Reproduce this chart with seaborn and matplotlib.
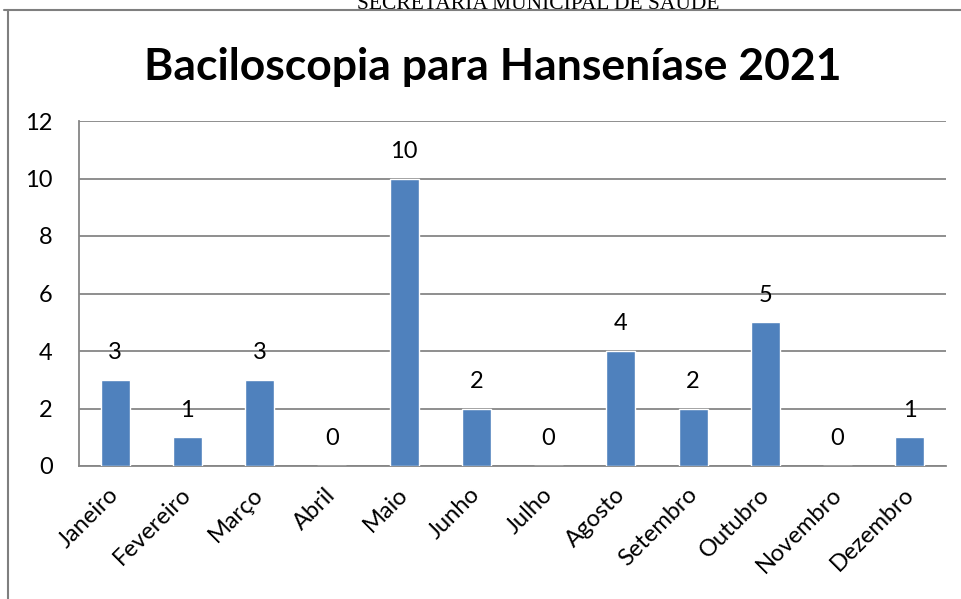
import matplotlib
matplotlib.use('Agg')
import matplotlib.pyplot as plt
import matplotlib.transforms as mtransforms
import seaborn as sns
import pandas as pd

# dados
meses = ['Janeiro', 'Fevereiro', 'Março', 'Abril', 'Maio', 'Junho', 'Julho',
         'Agosto', 'Setembro', 'Outubro', 'Novembro', 'Dezembro']
casos = [3, 1, 3, 0, 10, 2, 0, 4, 2, 5, 0, 1]

df = pd.DataFrame({'mes': meses, 'casos': casos})

sns.set_theme(style='white')
plt.rcParams['font.family'] = ['Lato', 'DejaVu Sans']
plt.rcParams['text.color'] = 'black'

fig = plt.figure(figsize=(9.62, 5.99), dpi=100)
ax = fig.add_axes([79 / 962, 1 - 466 / 599, 867 / 962, 345 / 599])

sns.barplot(data=df, x='mes', y='casos', color='#4F81BD', width=0.4,
            saturation=1, ax=ax, zorder=3)

ax.set_ylim(0, 12)
ax.set_yticks(range(0, 13, 2))
ax.set_xlim(-0.5, 11.5)
ax.yaxis.grid(True, color='#868686', linewidth=1.3, zorder=0)
ax.set_axisbelow(True)
for s in ['top', 'right']:
    ax.spines[s].set_visible(False)
ax.spines['left'].set_color('#868686')
ax.spines['bottom'].set_color('#868686')
ax.spines['left'].set_linewidth(1.3)
ax.spines['bottom'].set_linewidth(1.3)
ax.set_xlabel('')
ax.set_ylabel('')
ax.tick_params(axis='y', labelsize=17, pad=19, length=0, colors='black')
ax.tick_params(axis='x', labelsize=17, length=0, pad=13, colors='black')
deslocar = mtransforms.ScaledTranslation(-7 / 100, 0, fig.dpi_scale_trans)
for lbl in ax.get_xticklabels():
    lbl.set_rotation(45)
    lbl.set_ha('right')
    lbl.set_rotation_mode('anchor')
    lbl.set_transform(lbl.get_transform() + deslocar)

for i, v in enumerate(casos):
    ax.annotate(str(v), (i, v), xytext=(0, 12), textcoords='offset points',
                ha='center', va='bottom', fontsize=17, color='black')

fig.text(493 / 962, 1 - 80 / 599, 'Baciloscopia para Hanseníase 2021',
         ha='center', va='baseline', fontsize=32, fontweight='bold')
fig.text(538 / 962, 1 - 9 / 599, 'SECRETARIA MUNICIPAL DE SAÚDE', ha='center',
         va='baseline', fontsize=15.5, family='Liberation Serif')

# moldura
fig.add_artist(plt.Line2D([8 / 962, 8 / 962], [0, 1 - 10 / 599],
                          transform=fig.transFigure, color='#7f7f7f', lw=1.5))
fig.add_artist(plt.Line2D([4 / 962, 1], [1 - 10 / 599, 1 - 10 / 599],
                          transform=fig.transFigure, color='#7f7f7f', lw=1.5))

fig.savefig('out.png', dpi=100)
